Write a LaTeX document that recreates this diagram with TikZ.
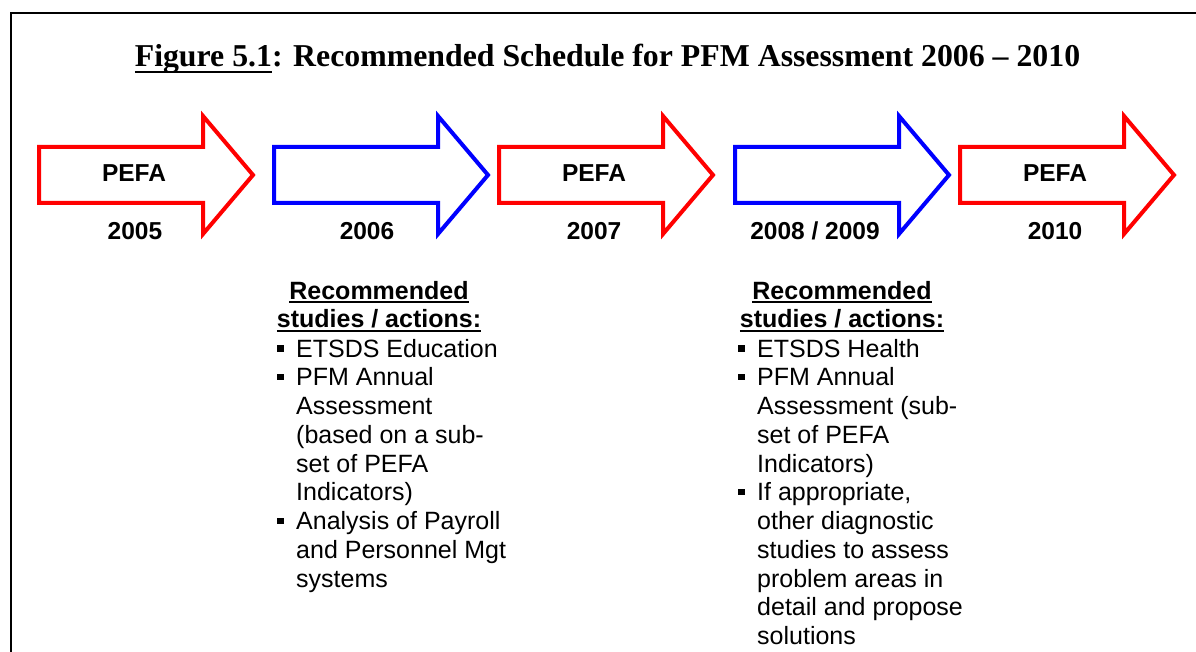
\documentclass[tikz,border=0pt]{standalone}
\usepackage{fontspec}
\setmainfont{Liberation Serif}
\newfontfamily\arial{Liberation Sans}
\newcommand\undl[3]{\setbox0\hbox{#3}\rlap{\rule[-#1]{\wd0}{#2}}\box0}
\newcommand\bsq{\rule[5.5pt]{6.5pt}{6.5pt}}

\begin{document}
\begin{tikzpicture}[x=1pt, y=-1pt,
  arr/.style={line width=4pt, miter limit=10},
  lbl/.style={font=\arial\fontsize{24.5}{28}\selectfont\bfseries, anchor=base, inner sep=0pt},
  head/.style={font=\arial\fontsize{25}{28.75}\selectfont\bfseries, anchor=base, inner sep=0pt},
  lst/.style={font=\arial\fontsize{25}{28.75}\selectfont, anchor=base west, inner sep=0pt}]
\useasboundingbox (0,0) rectangle (1196,652);
\draw[line width=2pt] (10.5,652) |- (1196,13);

\node[anchor=base, inner sep=0pt, font=\fontsize{31.8}{36}\selectfont\bfseries] (title) at (607.5,67)
  {\undl{6.5pt}{2.5pt}{Figure 5.1}: Recommended Schedule for PFM Assessment 2006 -- 2010};

\foreach \x/\c in {39/red, 274/blue, 499/red, 735/blue, 960/red}
\draw[arr, \c] (\x,147) -- (\x+164,147) -- (\x+164,116) -- (\x+214,175)
  -- (\x+164,234) -- (\x+164,203) -- (\x,203) -- cycle;

\foreach \x [count=\i] in {134, 594, 1055}
\node[lbl] (pefa\i) at (\x,182) {PEFA};
\foreach \x/\t [count=\i] in {135/2005, 367/2006, 594/2007, 815/{2008 / 2009}, 1055/2010}
\node[lbl] (yr\i) at (\x,240) {\t};

% studies after 2005 and 2007
\node[head] (rec1) at (379,299) {\begin{tabular}[t]{@{}c@{}}
  \undl{4pt}{2pt}{Recommended}\\ \undl{4pt}{2pt}{studies / actions:}\end{tabular}};
\node[lst] (acts1) at (277,357) {\begin{tabular}[t]{@{}p{19pt}@{}l@{}}
  \bsq & ETSDS Education\\
  \bsq & PFM Annual\\
       & Assessment\\
       & (based on a sub-\\
       & set of PEFA\\
       & Indicators)\\
  \bsq & Analysis of Payroll\\
       & and Personnel Mgt\\
       & systems
  \end{tabular}};

\node[head] (rec2) at (842,299) {\begin{tabular}[t]{@{}c@{}}
  \undl{4pt}{2pt}{Recommended}\\ \undl{4pt}{2pt}{studies / actions:}\end{tabular}};
\node[lst] (acts2) at (738,357) {\begin{tabular}[t]{@{}p{19pt}@{}l@{}}
  \bsq & ETSDS Health\\
  \bsq & PFM Annual\\
       & Assessment (sub-\\
       & set of PEFA\\
       & Indicators)\\
  \bsq & If appropriate,\\
       & other diagnostic\\
       & studies to assess\\
       & problem areas in\\
       & detail and propose\\
       & solutions
  \end{tabular}};
\end{tikzpicture}
\end{document}
